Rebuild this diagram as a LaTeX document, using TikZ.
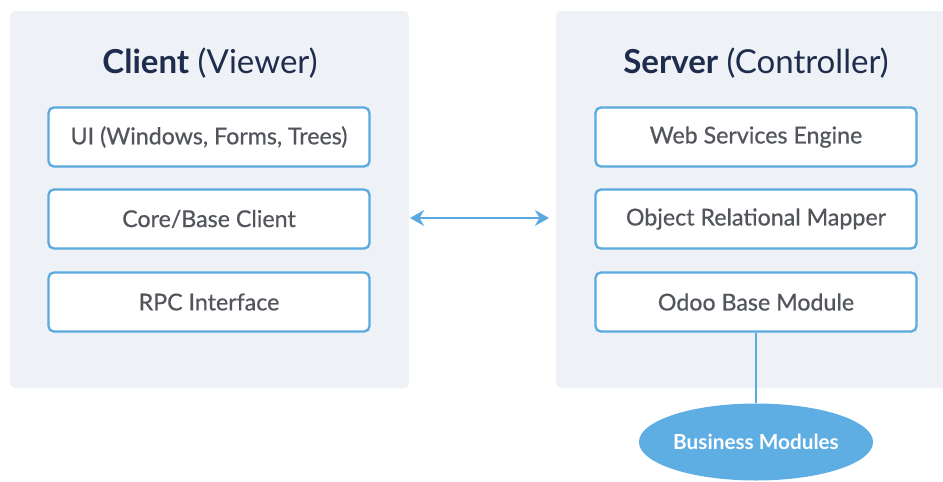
\documentclass[tikz,border=0pt]{standalone}
\usepackage{fontspec}
\setmainfont{Lato}
\newfontfamily\labelfont[FakeBold=0.6]{Lato}
\usetikzlibrary{shapes.geometric,arrows.meta}

\definecolor{panelgray}{HTML}{EEF1F5}
\definecolor{boxblue}{HTML}{5AAAE0}
\definecolor{titlenavy}{HTML}{1E2C4E}
\definecolor{labelgray}{HTML}{52565C}
\definecolor{ovalblue}{HTML}{5FAEE3}

\def\boxw{6.42cm}
\def\boxh{1.18cm}

\tikzset{
	panel/.style={fill=panelgray,draw=none,rounded corners=3pt},
	layer/.style={draw=boxblue,line width=1.3pt,fill=white,rounded corners=3pt,
		minimum width=\boxw,minimum height=\boxh,text=labelgray,font=\labelfont\fontsize{13.2}{16}\selectfont},
	heading/.style={text=titlenavy,font=\fontsize{18.8}{22}\selectfont},
	link/.style={draw=boxblue,line width=1.3pt}
}

\begin{document}
\begin{tikzpicture}[x=0.02cm,y=-0.02cm]
			\useasboundingbox (0,0) rectangle (943,481);

			% panels
			\fill[panel] (10,11) rectangle (409,388);
			\fill[panel] (556,11) rectangle (955,388);

			% client side
			\node[heading] (clienttitle) at (210,63) {\textbf{Client} (Viewer)};
			\node[layer] (ui) at (209,137) {UI (Windows, Forms, Trees)};
			\node[layer] (core) at (209,219) {Core/Base Client};
			\node[layer] (rpc) at (209,302) {RPC Interface};

			% server side
			\node[heading] (servertitle) at (756,63) {\textbf{Server} (Controller)};
			\node[layer] (web) at (756,137) {Web Services Engine};
			\node[layer] (orm) at (756,219) {Object Relational Mapper};
			\node[layer] (base) at (756,302) {Odoo Base Module};

			% business modules
			\node[ellipse,fill=ovalblue,inner sep=0pt,minimum width=4.56cm,minimum height=1.54cm,
				text=white,font=\fontsize{11.8}{14}\selectfont\bfseries] (business) at (756,442) {Business Modules};

			% connectors
			\coordinate (leftend) at (410,218);
			\coordinate (rightend) at (549,218);
			\draw[link,{Stealth[length=8pt,width=9pt]}-{Stealth[length=8pt,width=9pt]}] (leftend) -- (rightend);
			\draw[link] (base.south) -- (business.north);
		\end{tikzpicture}
\end{document}
